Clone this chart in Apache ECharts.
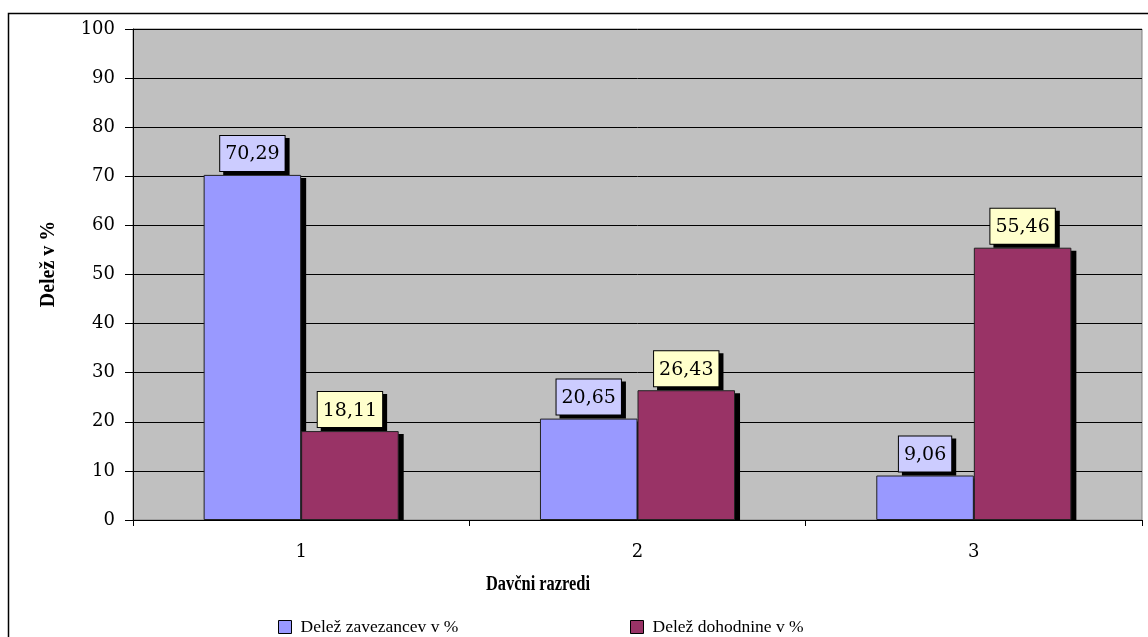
<!DOCTYPE html>
<html>
<head>
<meta charset="utf-8">
<script src="https://cdn.jsdelivr.net/npm/echarts@6/dist/echarts.min.js"></script>
<style>
  html, body { margin: 0; padding: 0; background: #fff; }
  #chart { width: 1148px; height: 637px; }
</style>
</head>
<body>
<div id="chart"></div>
<script>
// Tax brackets and the two shares per bracket
const categories = ['1', '2', '3'];
const sharePayers = [70.29, 20.65, 9.06];     // Delež zavezancev v %
const shareIncomeTax = [18.11, 26.43, 55.46]; // Delež dohodnine v %
const seriesNames = ['Delež zavezancev v %', 'Delež dohodnine v %'];

const numFont = 'DejaVu Serif';
const textFont = 'Liberation Serif';
const CATEGORY_GAP = 0.42;

function fmt(v) {
  return v.toFixed(2).replace('.', ',');
}

function labelStyle(bg) {
  return {
    show: true,
    position: 'top',
    distance: 4,
    formatter: p => fmt(p.value),
    fontFamily: numFont,
    fontSize: 19,
    color: '#000',
    backgroundColor: bg,
    borderColor: '#000',
    borderWidth: 1,
    padding: [9, 5, 7, 5],
    shadowColor: '#000',
    shadowBlur: 0,
    shadowOffsetX: 4,
    shadowOffsetY: 3
  };
}

// Solid drop shadow behind each bar, placed with the axis scales
function shadowSeries(values, slot) {
  return {
    type: 'custom',
    name: 'sjena-' + slot,
    silent: true,
    z: 1,
    encode: { x: 0, y: 1 },
    data: values.map((v, i) => [i, v]),
    renderItem: function (params, api) {
      const top = api.coord([api.value(0), api.value(1)]);
      const base = api.coord([api.value(0), 0]);
      const band = api.size([1, 0])[0];
      const barW = band * (1 - CATEGORY_GAP) / 2;
      const left = top[0] - barW + slot * barW;
      return {
        type: 'rect',
        shape: { x: left + 5, y: top[1] + 3, width: barW, height: base[1] - top[1] - 3 },
        style: { fill: '#000' }
      };
    }
  };
}

const legendBase = {
  orient: 'horizontal',
  top: 618,
  padding: 0,
  itemWidth: 13,
  itemHeight: 13,
  itemGap: 0,
  icon: 'rect',
  textStyle: { fontFamily: textFont, fontSize: 17.5, color: '#000', padding: [0, 0, 0, 4] },
  itemStyle: { borderColor: '#000', borderWidth: 1 }
};

const chart = echarts.init(document.getElementById('chart'));
chart.setOption({
  animation: false,
  backgroundColor: '#fff',
  graphic: [
    {
      type: 'rect',
      shape: { x: 8.5, y: 13.5, width: 1160, height: 640 },
      style: { fill: 'none', stroke: '#000', lineWidth: 1.5 },
      silent: true,
      z: -1
    },
    {
      type: 'text',
      x: 49,
      y: 264,
      rotation: Math.PI / 2,
      style: {
        text: 'Delež v %',
        fontFamily: textFont,
        fontSize: 20,
        fontWeight: 'bold',
        fill: '#000',
        textAlign: 'center',
        textVerticalAlign: 'middle'
      }
    },
    {
      type: 'text',
      x: 538,
      y: 585,
      scaleX: 0.82,
      style: {
        text: 'Davčni razredi',
        fontFamily: textFont,
        fontSize: 20,
        fontWeight: 'bold',
        fill: '#000',
        textAlign: 'center',
        textVerticalAlign: 'middle'
      }
    }
  ],
  legend: [
    Object.assign({}, legendBase, { left: 278, data: [seriesNames[0]] }),
    Object.assign({}, legendBase, { left: 630, data: [seriesNames[1]] })
  ],
  grid: {
    left: 133,
    right: 6,
    top: 29,
    bottom: 117,
    show: true,
    backgroundColor: '#c0c0c0',
    borderColor: '#808080',
    borderWidth: 1,
    containLabel: false
  },
  xAxis: {
    type: 'category',
    data: categories,
    boundaryGap: true,
    axisLine: { lineStyle: { color: '#000', width: 1 } },
    axisTick: { show: true, length: 6, alignWithLabel: false, lineStyle: { color: '#000' } },
    axisLabel: { fontFamily: numFont, fontSize: 18, color: '#000', margin: 23 },
    splitLine: { show: false }
  },
  yAxis: {
    type: 'value',
    min: 0,
    max: 100,
    interval: 10,
    axisLine: { show: true, lineStyle: { color: '#000', width: 1 } },
    axisTick: { show: true, length: 8, inside: false, lineStyle: { color: '#000' } },
    axisLabel: { fontFamily: numFont, fontSize: 18, color: '#000', margin: 18 },
    splitLine: { show: true, lineStyle: { color: '#000', width: 1 } }
  },
  series: [
    shadowSeries(sharePayers, 0),
    shadowSeries(shareIncomeTax, 1),
    {
      name: seriesNames[0],
      type: 'bar',
      z: 3,
      data: sharePayers,
      barGap: '0%',
      barCategoryGap: (CATEGORY_GAP * 100) + '%',
      itemStyle: { color: '#9999ff', borderColor: '#222', borderWidth: 1 },
      label: labelStyle('#ccccff')
    },
    {
      name: seriesNames[1],
      type: 'bar',
      z: 3,
      data: shareIncomeTax,
      barGap: '0%',
      barCategoryGap: (CATEGORY_GAP * 100) + '%',
      itemStyle: { color: '#993366', borderColor: '#222', borderWidth: 1 },
      label: labelStyle('#ffffcc')
    }
  ]
});
</script>
</body>
</html>
